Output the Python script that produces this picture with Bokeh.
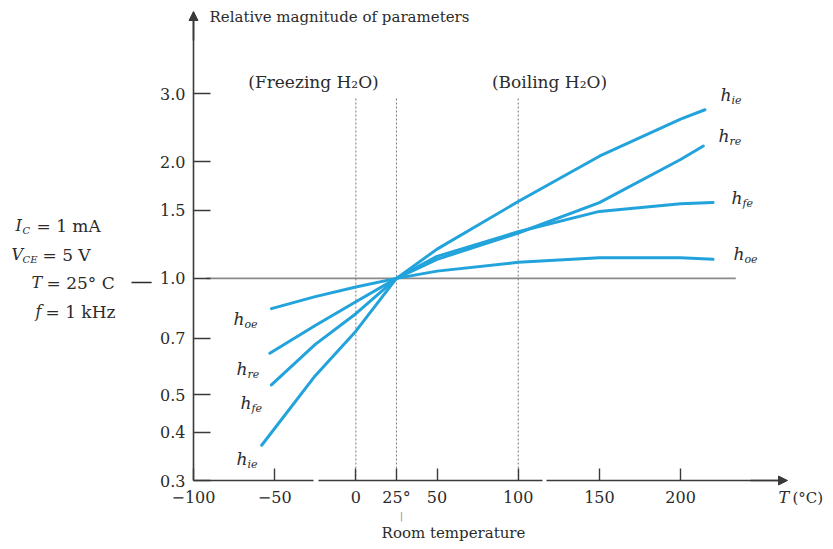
from bokeh.plotting import figure
from bokeh.models import (Label, Arrow, NormalHead, FixedTicker, PrintfTickFormatter,
                          LinearAxis, LogAxis, BoxAnnotation)
from bokeh.embed import file_html
from bokeh.resources import INLINE

# ---------------- data ----------------
T_ie = [-58, -25, 0, 25, 50, 100, 150, 200, 215]
h_ie = [0.37, 0.56, 0.73, 1.0, 1.19, 1.58, 2.07, 2.58, 2.73]

T_re = [-53, -25, 0, 25, 50, 100, 150, 200, 214]
h_re = [0.64, 0.755, 0.87, 1.0, 1.12, 1.31, 1.57, 2.03, 2.2]

T_fe = [-52, -25, 0, 25, 50, 100, 150, 200, 220]
h_fe = [0.53, 0.675, 0.81, 1.0, 1.14, 1.32, 1.49, 1.56, 1.57]

T_oe = [-52, -25, 0, 25, 50, 100, 150, 200, 220]
h_oe = [0.835, 0.897, 0.95, 1.0, 1.044, 1.10, 1.13, 1.13, 1.12]

y_ticks = [0.3, 0.4, 0.5, 0.7, 1.0, 1.5, 2.0, 3.0]
x_ticks = [-100, -50, 0, 25, 50, 100, 150, 200]
x_tick_labels = {-100: "\u2212100", -50: "\u221250", 25: "25\u00b0"}

marker_T = [0, 25, 100]          # freezing, room, boiling
marker_top = 2.94
unity_T = [-92, 234]             # extent of the 1.0 reference line
unity_val = 1.0

# ---------------- layout ----------------
W, H = 833, 549
ORG_X, ORG_Y = 193, 480          # page position of the axes origin (-100, 0.3)
XS = 1.6236                      # px per degree C
YS = 386.6                       # px per decade
X0, Y0 = -100, 0.3
FONT = "DejaVu Serif"
TXT = "#2b2b2b"
AX = "#3a3a3a"
BLUE = "#22a3dc"


def X(px):  # page pixel -> data x
    return X0 + (px - ORG_X) / XS


def Y(py):  # page pixel -> data y (log)
    return Y0 * 10 ** ((ORG_Y - py) / YS)


p = figure(width=W, height=H, x_range=(X(0), X(W)), y_range=(Y(H), Y(0)),
           y_axis_type="log", x_axis_location=None, y_axis_location=None,
           output_backend="svg", toolbar_location=None, min_border=0)
p.outline_line_color = None
p.xgrid.grid_line_color = None
p.ygrid.grid_line_color = None
p.background_fill_color = "white"

xa = LinearAxis(fixed_location=Y0, bounds=(X0, X(785)),
                ticker=FixedTicker(ticks=x_ticks))
xa.major_label_overrides = x_tick_labels
xa.major_tick_in = 12
xa.major_label_standoff = 7
ya = LogAxis(fixed_location=X0, bounds=(Y0, Y(12)),
             ticker=FixedTicker(ticks=y_ticks),
             formatter=PrintfTickFormatter(format="%.1f"))
ya.major_tick_in = 17
ya.major_label_standoff = 8
for ax in (xa, ya):
    ax.axis_line_color = AX
    ax.axis_line_width = 1.6
    ax.major_tick_line_color = AX
    ax.major_tick_line_width = 1.4
    ax.minor_tick_line_color = None
    ax.major_tick_out = 0
    ax.major_label_text_font = FONT
    ax.major_label_text_font_size = "16px"
    ax.major_label_text_color = TXT
p.add_layout(xa, "below")
p.add_layout(ya, "left")

# breaks in the temperature axis
for a, b in ((313, 318), (542, 546)):
    p.add_layout(BoxAnnotation(left=X(a), right=X(b), bottom=Y(484), top=Y(476),
                               fill_color="white", fill_alpha=1, line_color=None))

# reference lines
p.segment(x0=unity_T[0], y0=unity_val, x1=unity_T[1], y1=unity_val,
          line_color="#8a8a8a", line_width=1.8)
p.segment(x0=marker_T, y0=[Y0] * len(marker_T), x1=marker_T,
          y1=[marker_top] * len(marker_T), line_color="#777777",
          line_width=1, line_dash="2 2")

# curves
for T, v in ((T_ie, h_ie), (T_re, h_re), (T_fe, h_fe), (T_oe, h_oe)):
    p.line(T, v, line_color=BLUE, line_width=3, line_join="round",
           line_cap="round")

# arrows on axes
p.add_layout(Arrow(end=NormalHead(size=9, fill_color=AX, line_color=AX),
                   x_start=X0, y_start=Y(40), x_end=X0, y_end=Y(11),
                   line_color=AX, line_width=1.6))
p.add_layout(Arrow(end=NormalHead(size=9, fill_color=AX, line_color=AX),
                   x_start=X(750), y_start=Y0, x_end=X(787), y_end=Y0,
                   line_color=AX, line_width=1.6))


def lab(px, py, text, size=15, align="left", italic=False, color=TXT):
    p.add_layout(Label(x=X(px), y=Y(py), text=text, text_font=FONT,
                       text_font_size=f"{size}px", text_align=align,
                       text_baseline="middle", text_color=color,
                       text_font_style="italic" if italic else "normal"))


def hlab(px, py, sub):
    lab(px, py, "h", size=17, italic=True)
    lab(px + 11, py + 6, sub, size=11, italic=True)


lab(209, 16, "Relative magnitude of parameters", size=15)
lab(313, 81, "(Freezing H\u2082O)", size=17, align="center")
lab(549, 81, "(Boiling H\u2082O)", size=17, align="center")
lab(453, 532, "Room temperature", size=15, align="center")
lab(401, 515, "|", size=10, align="center", color="#888888")
lab(778, 497, "T", size=16, italic=True)
lab(792, 497, "(\u00b0C)", size=15)

# operating conditions
lab(15, 225, "I", size=16, italic=True)
lab(22, 230, "C", size=10, italic=True)
lab(36, 225, "= 1 mA", size=17)
lab(11, 254, "V", size=16, italic=True)
lab(22, 259, "CE", size=10, italic=True)
lab(42, 254, "= 5 V", size=17)
lab(31, 282, "T", size=16, italic=True)
lab(46, 282, "= 25\u00b0 C", size=17)
lab(35, 311, "f", size=16, italic=True)
lab(45, 311, "= 1 kHz", size=17)
lab(141, 281, "\u2014", size=22, align="center")

# curve labels (right)
hlab(720, 94, "ie")
hlab(718, 135, "re")
hlab(731, 197, "fe")
hlab(733, 253, "oe")
# curve labels (left)
hlab(233, 318, "oe")
hlab(236, 368, "re")
hlab(240, 402, "fe")
hlab(236, 458, "ie")

open("out.html", "w").write(file_html(p, INLINE))
